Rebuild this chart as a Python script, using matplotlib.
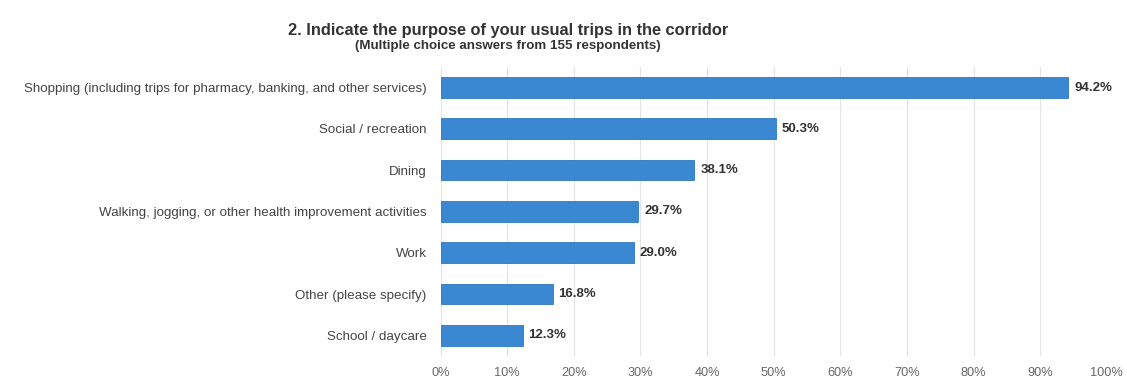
import matplotlib
matplotlib.use("Agg")
import matplotlib.pyplot as plt

plt.rcParams['font.family'] = ['Liberation Sans', 'DejaVu Sans']

# survey answers, top to bottom
categories = [
    "Shopping (including trips for pharmacy, banking, and other services)",
    "Social / recreation",
    "Dining",
    "Walking, jogging, or other health improvement activities",
    "Work",
    "Other (please specify)",
    "School / daycare",
]
percent = [94.2, 50.3, 38.1, 29.7, 29.0, 16.8, 12.3]
xticks = [0, 10, 20, 30, 40, 50, 60, 70, 80, 90, 100]

fig = plt.figure(figsize=(11.27, 3.82), dpi=100)
ax = fig.add_axes([0.391, 0.068, 0.591, 0.757])

ypos = list(range(len(categories)))
ax.barh(ypos, percent, height=0.5, color='#3b88d2', edgecolor='#2f78bf', linewidth=0.6, zorder=3)
for y, v in zip(ypos, percent):
    ax.text(v + 0.9, y, f"{v}%", va='center', ha='left', fontsize=9.5,
            fontweight='bold', color='#333333')

ax.set_ylim(len(categories) - 0.5, -0.5)
ax.set_xlim(0, 100)
ax.set_yticks(ypos)
ax.set_yticklabels(categories, fontsize=9.6, color='#444444')
ax.set_xticks(xticks)
ax.set_xticklabels([f"{t}%" for t in xticks], fontsize=9.2, color='#666666')
ax.tick_params(axis='both', length=0)
ax.tick_params(axis='y', pad=10)
ax.tick_params(axis='x', pad=8)
ax.grid(axis='x', color='#e4e4e4', linewidth=0.9, zorder=0)
for s in ax.spines.values():
    s.set_visible(False)

fig.text(0.451, 0.920, "2. Indicate the purpose of your usual trips in the corridor",
         ha='center', va='center', fontsize=11.8, fontweight='bold', color='#333333')
fig.text(0.451, 0.880, "(Multiple choice answers from 155 respondents)",
         ha='center', va='center', fontsize=9.6, fontweight='bold', color='#333333')

fig.savefig('out.png', dpi=100)
